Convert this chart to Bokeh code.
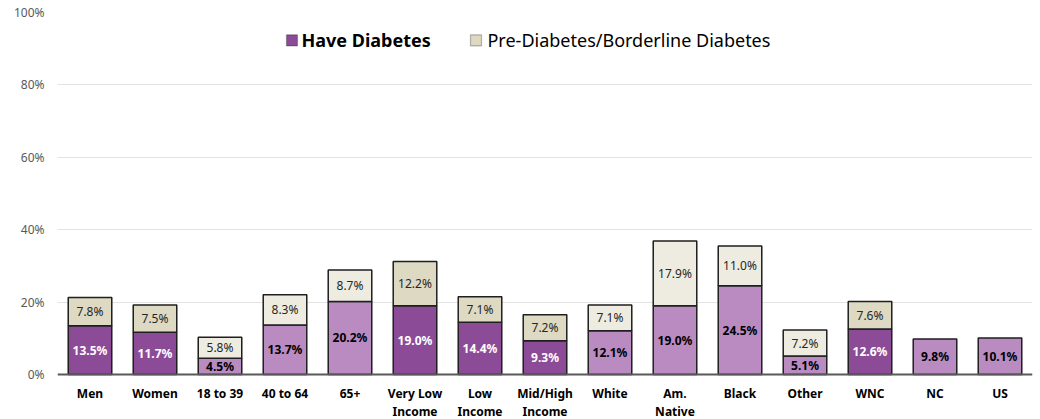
from bokeh.plotting import figure
from bokeh.models import (FactorRange, Range1d, FixedTicker, PrintfTickFormatter, ColumnDataSource,
                          Label, BoxAnnotation, Span)
from bokeh.core.properties import value
from bokeh.embed import file_html
from bokeh.resources import INLINE

categories = ["Men", "Women", "18 to 39", "40 to 64", "65+", "Very Low\nIncome", "Low\nIncome",
              "Mid/High\nIncome", "White", "Am.\nNative", "Black", "Other", "WNC", "NC", "US"]
have_diabetes = [13.5, 11.7, 4.5, 13.7, 20.2, 19.0, 14.4, 9.3, 12.1, 19.0, 24.5, 5.1, 12.6, 9.8, 10.1]
pre_diabetes = [7.8, 7.5, 5.8, 8.3, 8.7, 12.2, 7.1, 7.2, 7.1, 17.9, 11.0, 7.2, 7.6, None, None]
dark_group = [1, 1, 0, 0, 0, 1, 1, 1, 0, 0, 0, 0, 1, 0, 0]
y_ticks = [0, 20, 40, 60, 80, 100]

FONT = "Noto Sans"
DARK_P, LIGHT_P = "#8B4B97", "#B98BC1"
DARK_B, LIGHT_B = "#DDD9C3", "#EEECE1"
EDGE = "#1f1f1f"

d_src = ColumnDataSource(dict(
    x=categories,
    top=have_diabetes,
    mid=[v / 2 for v in have_diabetes],
    lab=[f"{v:.1f}%" for v in have_diabetes],
    color=[DARK_P if g else LIGHT_P for g in dark_group],
    tcolor=["white" if g else "black" for g in dark_group],
))

px, pb, pt, pm, pl, pc = [], [], [], [], [], []
for c, d, p_, g in zip(categories, have_diabetes, pre_diabetes, dark_group):
    if p_ is None:
        continue
    px.append(c); pb.append(d); pt.append(d + p_); pm.append(d + p_ / 2)
    pl.append(f"{p_:.1f}%"); pc.append(DARK_B if g else LIGHT_B)
p_src = ColumnDataSource(dict(x=px, bottom=pb, top=pt, mid=pm, lab=pl, color=pc))

parts = [c.split("\n") for c in categories]
cat_src = ColumnDataSource(dict(
    x=categories, y=[0] * len(categories),
    line1=[s[0] for s in parts],
    line2=[s[1] if len(s) > 1 else "" for s in parts],
))

# frame spans page y 12 (100%) down to the window bottom; 0% sits at y 374
p = figure(x_range=FactorRange(factors=categories), y_range=Range1d(-12.43, 100),
           width=1040, height=419, output_backend="svg", toolbar_location=None,
           min_border_left=57, min_border_right=8, min_border_top=12, min_border_bottom=0)
p.outline_line_color = None
p.background_fill_color = "white"

p.vbar(x="x", top="top", bottom=0, width=0.67, source=d_src, fill_color="color",
       line_color=EDGE, line_width=1.5)
p.vbar(x="x", top="top", bottom="bottom", width=0.67, source=p_src, fill_color="color",
       line_color=EDGE, line_width=1.5)

p.text(x="x", y="mid", text="lab", source=d_src, text_color="tcolor", text_align="center",
       text_baseline="middle", text_font=value(FONT), text_font_size="12px", text_font_style="bold")
p.text(x="x", y="mid", text="lab", source=p_src, text_color="#262626", text_align="center",
       text_baseline="middle", text_font=value(FONT), text_font_size="12px")

# category labels below the baseline (two lines)
for col, off in (("line1", 19), ("line2", 37)):
    p.text(x="x", y="y", text=col, source=cat_src, y_offset=off, text_align="center",
           text_baseline="middle", text_font=value(FONT), text_font_size="12px",
           text_font_style="bold", text_color="black")

# baseline
p.add_layout(Span(location=0, dimension="width", line_color="#595959", line_width=2))

# axes
p.xaxis.visible = False
p.xgrid.grid_line_color = None
p.ygrid.grid_line_color = "#e3e3e3"
p.ygrid.grid_line_width = 1
p.ygrid.ticker = FixedTicker(ticks=y_ticks)
p.yaxis.ticker = FixedTicker(ticks=y_ticks)
p.yaxis.formatter = PrintfTickFormatter(format="%d%%")
p.yaxis.axis_line_color = None
p.yaxis.major_tick_line_color = None
p.yaxis.major_tick_out = 0
p.yaxis.major_tick_in = 0
p.yaxis.minor_tick_line_color = None
p.yaxis.major_label_text_font = FONT
p.yaxis.major_label_text_font_size = "12px"
p.yaxis.major_label_text_color = "#595959"
p.yaxis.major_label_standoff = 13

# legend
ly = 92.3
p.add_layout(BoxAnnotation(left=3.523, right=3.692, bottom=ly - 1.52, top=ly + 1.52,
                           fill_color=DARK_P, fill_alpha=1, line_color=EDGE, line_width=1.2))
p.add_layout(Label(x=3.754, y=ly, text="Have Diabetes", text_font=FONT, text_font_size="18px",
                   text_font_style="bold", text_baseline="middle", text_color="black"))
p.add_layout(BoxAnnotation(left=6.354, right=6.523, bottom=ly - 1.52, top=ly + 1.52,
                           fill_color=DARK_B, fill_alpha=1, line_color=EDGE, line_width=1.2))
p.add_layout(Label(x=6.615, y=ly, text="Pre-Diabetes/Borderline Diabetes", text_font=FONT,
                   text_font_size="18px", text_baseline="middle", text_color="black"))

open("out.html", "w").write(file_html(p, INLINE))
